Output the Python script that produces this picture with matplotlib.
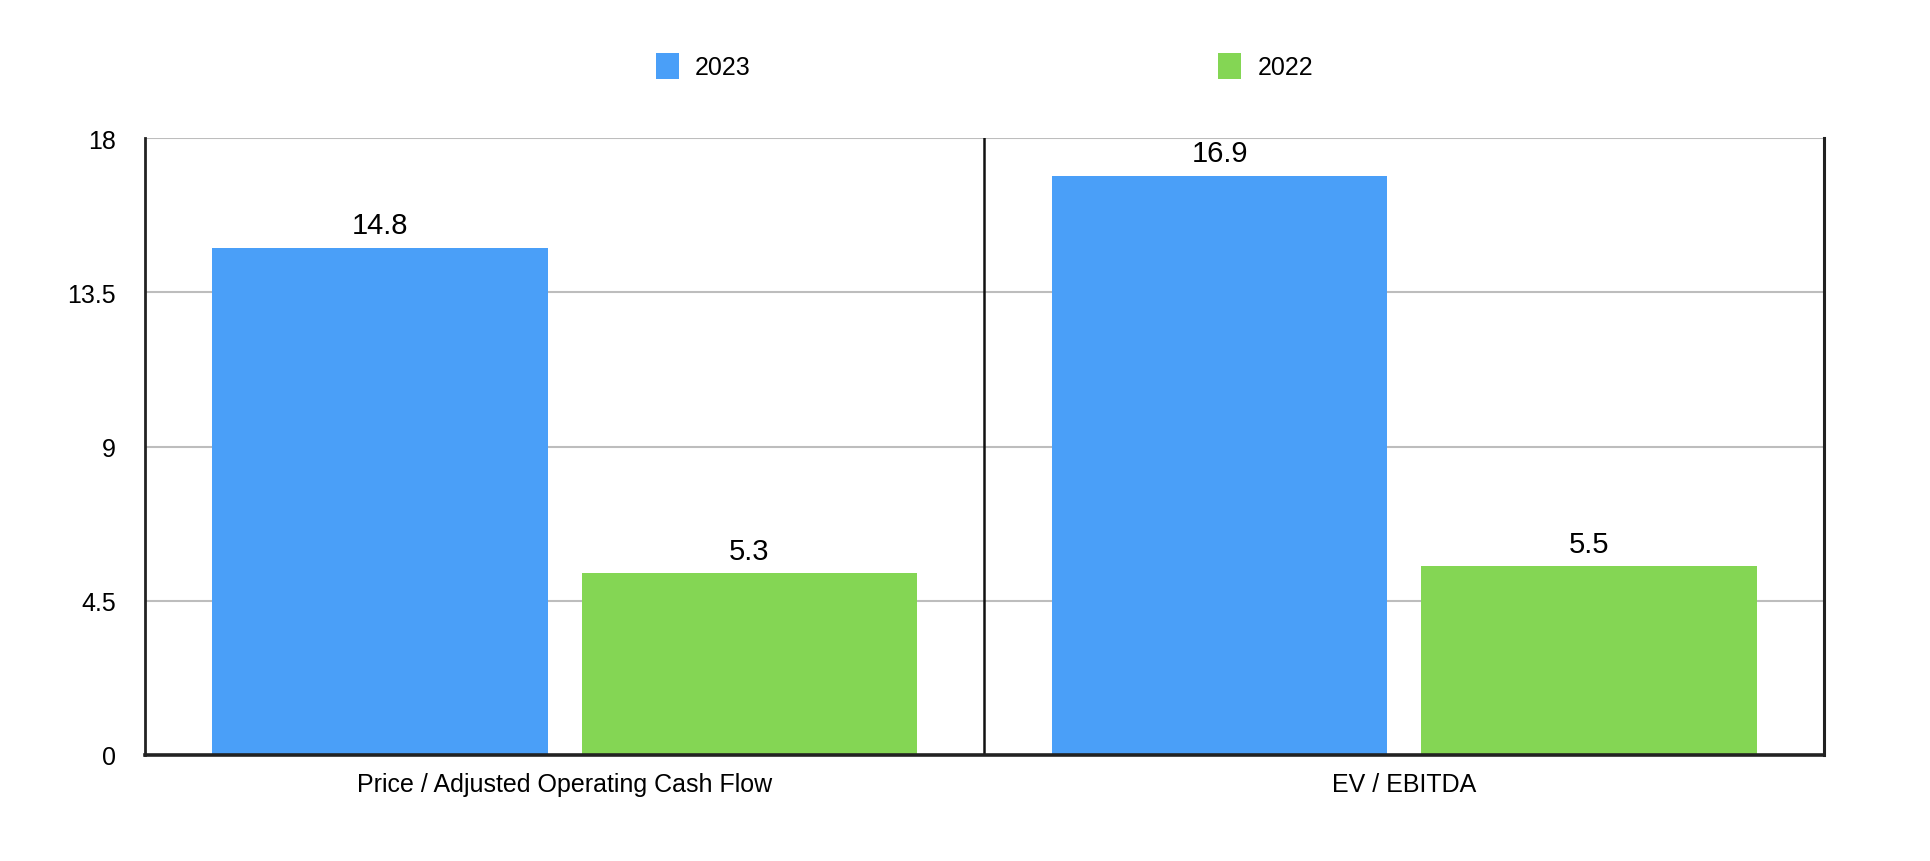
import numpy as np
import matplotlib.pyplot as plt

categories = ['Price / Adjusted Operating Cash Flow', 'EV / EBITDA']
series_names = ['2023', '2022']
values_2023 = [14.8, 16.9]
values_2022 = [5.3, 5.5]
yticks = [0, 4.5, 9, 13.5, 18]
ytick_labels = ['0', '4.5', '9', '13.5', '18']

blue = '#4A9FF8'
green = '#84D654'

plt.rcParams['font.family'] = ['Liberation Sans', 'DejaVu Sans']

fig = plt.figure(figsize=(19.3, 8.62), dpi=100)
ax = fig.add_axes([0.0751, 0.1230, 0.8700, 0.7157])

x = np.arange(len(categories))
w = 0.4
b1 = ax.bar(x - 0.22, values_2023, w, color=blue, label=series_names[0], zorder=3)
b2 = ax.bar(x + 0.22, values_2022, w, color=green, label=series_names[1], zorder=3)

# value labels above each bar
for bars in (b1, b2):
    ax.bar_label(bars, labels=[f'{v:.1f}' for v in bars.datavalues],
                 padding=6, fontsize=21, color='black')

ax.set_xlim(-0.5, 1.5)
ax.set_ylim(0, 18)
ax.set_yticks(yticks)
ax.set_yticklabels(ytick_labels)
ax.set_xticks(x)
ax.set_xticklabels(categories)
ax.tick_params(axis='y', length=0, pad=21, labelsize=18)
ax.tick_params(axis='x', length=0, pad=12, labelsize=18)

ax.grid(axis='y', color='#BDBDBD', linewidth=1.5, zorder=0)
ax.axvline(0.5, color='#111111', linewidth=1.8, zorder=4)

ax.spines['top'].set_visible(False)
ax.spines['left'].set_linewidth(2)
ax.spines['left'].set_color('#222222')
ax.spines['right'].set_linewidth(2.2)
ax.spines['right'].set_color('#222222')
ax.spines['bottom'].set_linewidth(2.6)
ax.spines['bottom'].set_color('#222222')
for s in ax.spines.values():
    s.set_zorder(5)

ax.legend(loc='center', bbox_to_anchor=(0.5, 1.117), ncol=2, frameon=False,
          fontsize=18, handlelength=0.92, handleheight=1.25,
          handletextpad=0.65, columnspacing=18.7)

fig.savefig('out.png', dpi=100)
